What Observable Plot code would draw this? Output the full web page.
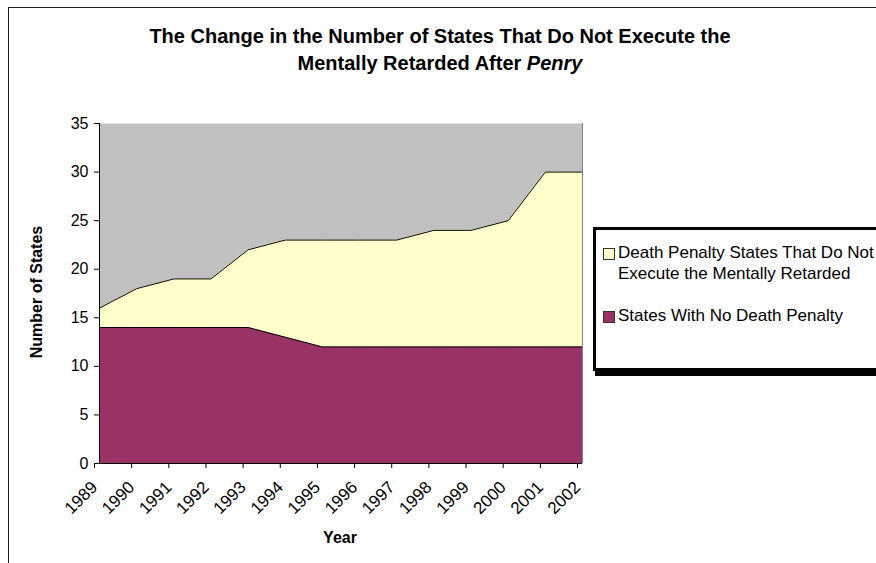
<!DOCTYPE html>
<html><head><meta charset="utf-8">
<script src="https://cdn.jsdelivr.net/npm/d3@7"></script>
<script src="https://cdn.jsdelivr.net/npm/@observablehq/plot@0.6"></script>
<style>
html,body{margin:0;padding:0;background:#fff;}
body{width:876px;height:563px;position:relative;overflow:hidden;font-family:"Liberation Sans",Arial,sans-serif;}
#frame{position:absolute;left:8px;top:7px;width:900px;height:600px;border-left:1.5px solid #202020;border-top:1.5px solid #202020;}
#title{position:absolute;left:0;width:880px;top:23px;text-align:center;font-weight:bold;font-size:20px;line-height:27px;color:#000;}
#chart{position:absolute;left:0;top:0;}
#ylab{position:absolute;left:37px;top:292px;transform:translate(-50%,-50%) rotate(-90deg);font-weight:bold;font-size:16px;white-space:nowrap;}
#xlab{position:absolute;left:340px;top:538px;transform:translate(-50%,-50%);font-weight:bold;font-size:16px;}
#legend{position:absolute;left:593px;top:227px;width:300px;height:138px;border:3.5px solid #000;box-shadow:2px 5px 0 #000;background:#fff;}
.item{position:absolute;left:7px;font-size:17px;line-height:21px;}
.sw{position:absolute;left:0;top:6px;width:10px;height:10px;border:1px solid #333;}
.txt{position:absolute;left:15px;top:0;white-space:nowrap;}
</style></head>
<body>
<div id="frame"></div>
<div id="title">The Change in the Number of States That Do Not Execute the<br>Mentally Retarded After <i>Penry</i></div>
<div id="chart"></div>
<div id="ylab">Number of States</div>
<div id="xlab">Year</div>
<div id="legend"></div>
<script>
const years = [1989,1990,1991,1992,1993,1994,1995,1996,1997,1998,1999,2000,2001,2002];
const noDeathPenalty = [14,14,14,14,14,13,12,12,12,12,12,12,12,12];
const dpNoExecute = [2,4,5,5,8,10,11,11,11,12,12,13,18,18];
const seriesNames = ["States With No Death Penalty","Death Penalty States That Do Not Execute the Mentally Retarded"];
const seriesColors = ["#993366","#ffffcc"];
const yTicks = [0,5,10,15,20,25,30,35];

const data = [];
years.forEach((yr,i)=>data.push({year:yr, value:noDeathPenalty[i], series:seriesNames[0]}));
years.forEach((yr,i)=>data.push({year:yr, value:dpNoExecute[i], series:seriesNames[1]}));

const chart = Plot.plot({
  width: 876, height: 563,
  marginLeft: 99, marginRight: 294, marginTop: 123, marginBottom: 100,
  style: {fontFamily: "'Liberation Sans', Arial, sans-serif", fontSize: "16px", background: "transparent", color: "#000"},
  x: {domain: [1989, 2002], label: null},
  y: {domain: [0, 35], label: null},
  color: {domain: seriesNames, range: seriesColors},
  marks: [
    Plot.frame({fill: "#c0c0c0", stroke: null}),
    Plot.areaY(data, {x: "year", y: "value", fill: "series", z: "series", fillOpacity: 1}),
    Plot.lineY(data, Plot.stackY2({x: "year", y: "value", z: "series", stroke: "#000", strokeWidth: 1})),
    Plot.ruleX([2002], {stroke: "#808080", strokeWidth: 1}),
    Plot.axisY({ticks: yTicks, tickSize: 5, tickPadding: 6, tickFormat: d => String(d), fontSize: 16}),
    Plot.axisX({ticks: years, tickSize: 5, tickPadding: 16, tickRotate: -45, dx: -5, tickFormat: d => String(d), fontSize: 17}),
    Plot.ruleX([1989], {stroke: "#000"}),
    Plot.ruleY([0], {stroke: "#000"})
  ]
});
document.getElementById("chart").appendChild(chart);

const legend = document.getElementById("legend");
const items = [
  {name: "Death Penalty States That Do Not<br>Execute the Mentally Retarded", color: seriesColors[1], top: 12},
  {name: seriesNames[0], color: seriesColors[0], top: 75}
];
items.forEach(it => {
  const d = document.createElement("div");
  d.className = "item";
  d.style.top = it.top + "px";
  d.innerHTML = `<div class="sw" style="background:${it.color}"></div><div class="txt">${it.name}</div>`;
  legend.appendChild(d);
});
</script>
</body></html>
